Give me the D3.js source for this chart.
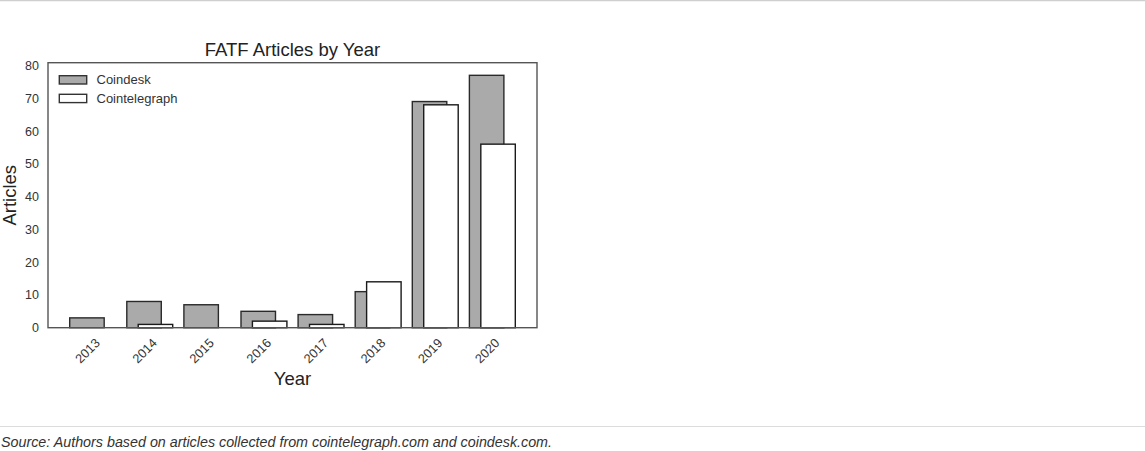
<!DOCTYPE html>
<html>
<head>
<meta charset="utf-8">
<script src="https://cdn.jsdelivr.net/npm/d3@7"></script>
<style>
  html, body { margin: 0; padding: 0; background: #fff; }
  svg { display: block; }
  text { font-family: "Liberation Sans", Arial, sans-serif; }
</style>
</head>
<body>
<script>
const years = ["2013", "2014", "2015", "2016", "2017", "2018", "2019", "2020"];
const coindesk = [3, 8, 7, 5, 4, 11, 69, 77];
const cointelegraph = [0, 1, 0, 2, 1, 14, 68, 56];
const seriesNames = ["Coindesk", "Cointelegraph"];
const yTicks = [0, 10, 20, 30, 40, 50, 60, 70, 80];

const W = 1145, H = 451;
const svg = d3.select("body").append("svg").attr("width", W).attr("height", H);

// page rules
svg.append("line").attr("x1", 0).attr("x2", W).attr("y1", 0.5).attr("y2", 0.5)
  .attr("stroke", "#cfcfcf").attr("stroke-width", 1.5);
svg.append("line").attr("x1", 0).attr("x2", W).attr("y1", 426.5).attr("y2", 426.5)
  .attr("stroke", "#dcdcdc").attr("stroke-width", 1.2);

const plot = { left: 48, right: 537, top: 62.7, bottom: 327.7 };

const x = d3.scalePoint().domain(years).range([plot.left, plot.right]).padding(0.782);
const step = x.step();
const barW = step * 0.604;
const off = step * 0.1;

const y = d3.scaleLinear().domain([0, 77 * 1.05]).range([plot.bottom, plot.top]);

// bars: coindesk (gray) then cointelegraph (white) on top
const g = svg.append("g");
g.selectAll("rect.cd").data(years).join("rect")
  .attr("class", "cd")
  .attr("x", (d) => x(d) - off - barW / 2)
  .attr("width", barW)
  .attr("y", (d, i) => y(coindesk[i]))
  .attr("height", (d, i) => y(0) - y(coindesk[i]))
  .attr("fill", "#aaaaaa").attr("stroke", "#2a2a2a").attr("stroke-width", 1.4);

g.selectAll("rect.ct").data(years.filter((d, i) => cointelegraph[i] > 0)).join("rect")
  .attr("class", "ct")
  .attr("x", (d) => x(d) + off - barW / 2)
  .attr("width", barW)
  .attr("y", (d) => y(cointelegraph[years.indexOf(d)]))
  .attr("height", (d) => y(0) - y(cointelegraph[years.indexOf(d)]))
  .attr("fill", "#ffffff").attr("stroke", "#1a1a1a").attr("stroke-width", 1.4);

// frame
svg.append("rect")
  .attr("x", plot.left).attr("y", plot.top)
  .attr("width", plot.right - plot.left).attr("height", plot.bottom - plot.top)
  .attr("fill", "none").attr("stroke", "#555").attr("stroke-width", 1.4);

// y axis
const yAxis = svg.append("g").attr("transform", `translate(${plot.left},0)`)
  .call(d3.axisLeft(y).tickValues(yTicks).tickSize(0).tickPadding(9));
yAxis.select(".domain").remove();
yAxis.selectAll("text").attr("font-size", 12.5).attr("fill", "#333")
  .attr("font-family", "'Liberation Sans', Arial, sans-serif");

// x axis (tick labels centred under the Coindesk bar)
const xTick = d3.scalePoint().domain(years).range([plot.left - off, plot.right - off]).padding(0.782);
const xAxis = svg.append("g").attr("transform", `translate(0,${plot.bottom})`)
  .call(d3.axisBottom(xTick).tickSize(0).tickPadding(0));
xAxis.select(".domain").remove();
xAxis.selectAll("text")
  .attr("font-size", 12.8).attr("fill", "#333")
  .attr("font-family", "'Liberation Sans', Arial, sans-serif")
  .attr("dy", null).attr("y", 0)
  .attr("text-anchor", "middle")
  .attr("dominant-baseline", "central")
  .attr("transform", "translate(0,23) rotate(-45)");

// title and axis labels
svg.append("text").attr("x", (plot.left + plot.right) / 2).attr("y", 55.7)
  .attr("text-anchor", "middle").attr("font-size", 18.5).attr("fill", "#222")
  .text("FATF Articles by Year");
svg.append("text").attr("x", (plot.left + plot.right) / 2).attr("y", 385)
  .attr("text-anchor", "middle").attr("font-size", 18.5).attr("fill", "#222")
  .text("Year");
svg.append("text")
  .attr("transform", `translate(16,${(plot.top + plot.bottom) / 2}) rotate(-90)`)
  .attr("text-anchor", "middle").attr("font-size", 18.5).attr("fill", "#222")
  .text("Articles");

// legend
const legend = svg.append("g");
const legFill = ["#aaaaaa", "#ffffff"];
seriesNames.forEach((name, i) => {
  const ly = 75.7 + i * 18.6;
  legend.append("rect").attr("x", 59.3).attr("y", ly).attr("width", 27.4).attr("height", 8.3)
    .attr("fill", legFill[i]).attr("stroke", "#333").attr("stroke-width", 1.4);
  legend.append("text").attr("x", 96.5).attr("y", ly + 4.2)
    .attr("dominant-baseline", "central").attr("font-size", 13).attr("fill", "#333")
    .text(name);
});

// source note
svg.append("text").attr("x", 1).attr("y", 446.5)
  .attr("font-size", 14.3).attr("font-style", "italic").attr("fill", "#333")
  .text("Source: Authors based on articles collected from cointelegraph.com and coindesk.com.");
</script>
</body>
</html>
